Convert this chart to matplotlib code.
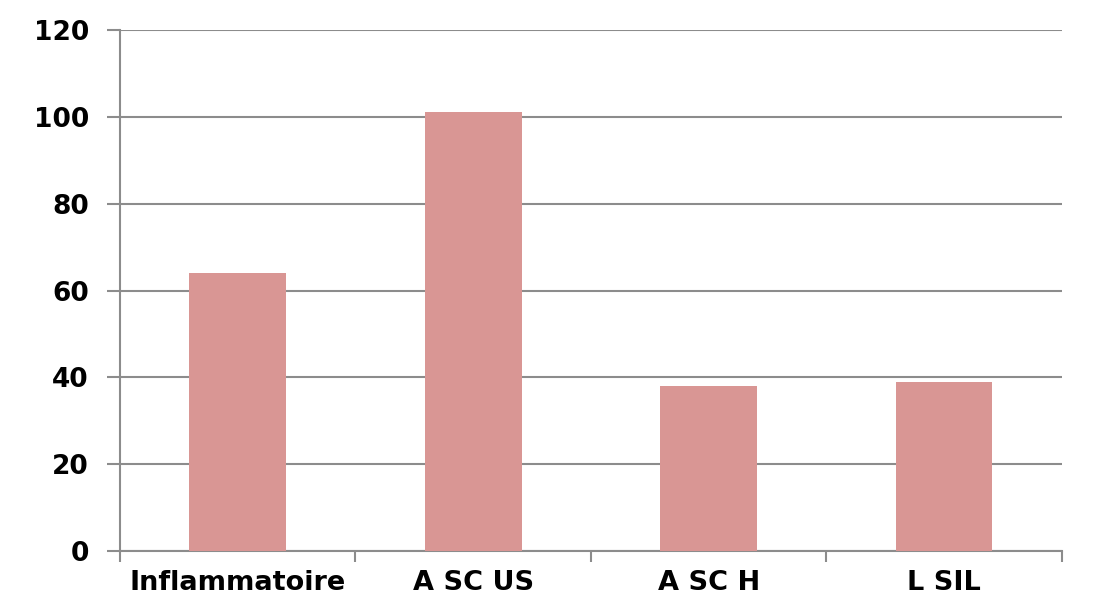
import matplotlib.pyplot as plt
import numpy as np

categories = ["Inflammatoire", "A SC US", "A SC H", "L SIL"]
values = [64, 101, 38, 39]

fig = plt.figure(figsize=(11.03, 6.13), dpi=100)
ax = fig.add_axes([0.1088, 0.1011, 0.854, 0.850])

x = np.arange(len(categories))
ax.bar(x, values, width=0.41, color="#D99694", zorder=3)

ax.set_xlim(-0.5, len(categories) - 0.5)
ax.set_ylim(0, 120)
ax.set_yticks(range(0, 121, 20))
ax.yaxis.grid(True, color="#8c8c8c", linewidth=1.5, zorder=0)

ax.set_xticks(x)
ax.set_xticklabels(categories)
ax.set_xticks(np.arange(-0.5, len(categories), 1.0), minor=True)
ax.tick_params(axis="x", which="major", length=0, pad=14)
ax.tick_params(axis="x", which="minor", length=8, width=1.5, color="#8c8c8c")
ax.tick_params(axis="y", length=9.5, width=1.5, color="#8c8c8c", pad=13)

for lab in ax.get_xticklabels():
    lab.set_fontsize(19.5)
    lab.set_fontweight("bold")
for lab in ax.get_yticklabels():
    lab.set_fontsize(19)
    lab.set_fontweight("bold")

for s in ["top", "right"]:
    ax.spines[s].set_visible(False)
for s in ["left", "bottom"]:
    ax.spines[s].set_color("#8c8c8c")
    ax.spines[s].set_linewidth(1.5)

fig.savefig("out.png", dpi=100)
